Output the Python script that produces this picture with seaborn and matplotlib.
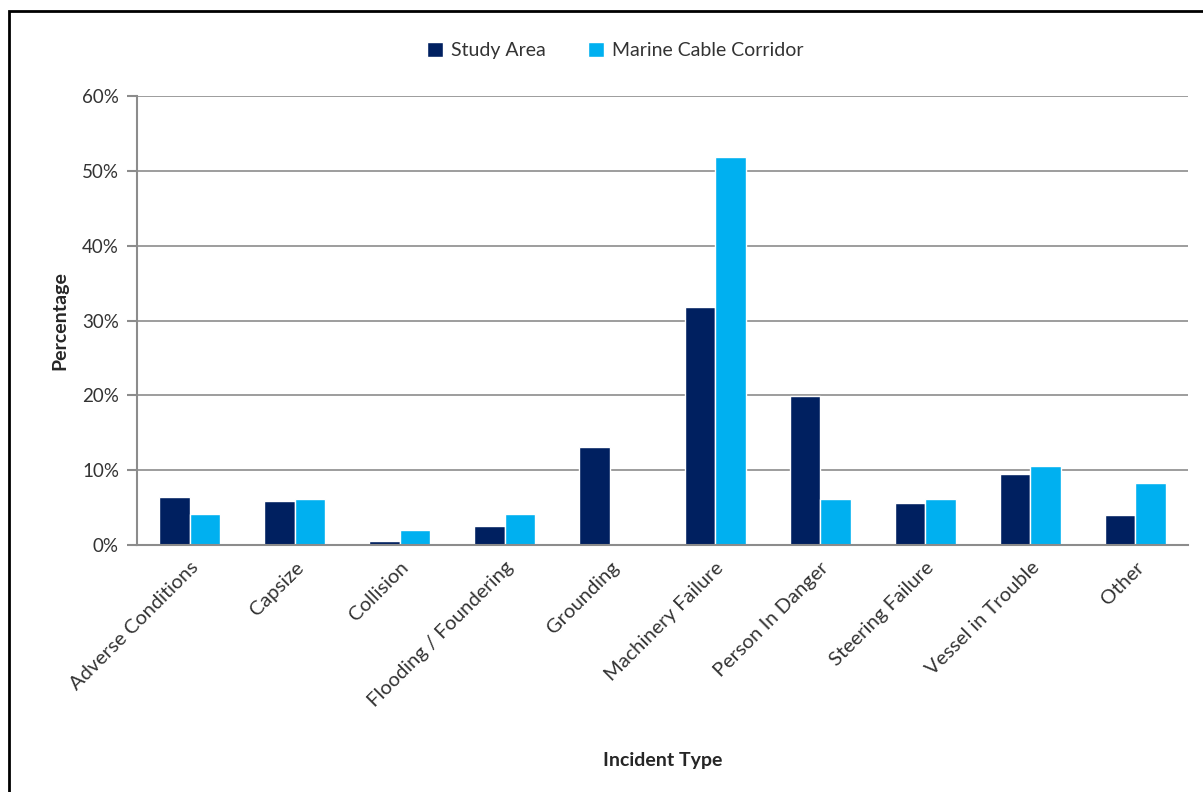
import pandas as pd
import seaborn as sns
import matplotlib.pyplot as plt
from matplotlib.patches import Rectangle
from matplotlib.ticker import PercentFormatter

incident_types = ["Adverse Conditions", "Capsize", "Collision", "Flooding / Foundering",
                  "Grounding", "Machinery Failure", "Person In Danger", "Steering Failure",
                  "Vessel in Trouble", "Other"]
study_area = [6.4, 5.9, 0.6, 2.5, 13.1, 31.8, 19.9, 5.65, 9.5, 4.0]
cable_corridor = [4.2, 6.1, 2.05, 4.2, 0.0, 51.9, 6.1, 6.1, 10.5, 8.3]

df = pd.DataFrame({
    "Incident Type": incident_types * 2,
    "Percentage": study_area + cable_corridor,
    "Series": ["Study Area"] * len(incident_types) + ["Marine Cable Corridor"] * len(incident_types),
})

sns.set_style("white")
plt.rcParams['font.family'] = ['Lato', 'DejaVu Sans']

fig = plt.figure(figsize=(12.03, 7.92), dpi=100)
ax = fig.add_axes([137 / 1203, 1 - 545 / 792, (1188 - 137) / 1203, (545 - 96) / 792])

sns.barplot(data=df, x="Incident Type", y="Percentage", hue="Series",
            palette=["#002060", "#00B0F0"], width=0.58, saturation=1, ax=ax)

ax.set_ylim(0, 60)
ax.set_xlim(-0.5, len(incident_types) - 0.5)
ax.set_yticks(range(0, 61, 10))
ax.yaxis.set_major_formatter(PercentFormatter(decimals=0))
ax.grid(axis="y", color="#8c8c8c", linewidth=1.2)
ax.set_axisbelow(True)
for s in ["top", "right"]:
    ax.spines[s].set_visible(False)
for s in ["left", "bottom"]:
    ax.spines[s].set_color("#8c8c8c")
    ax.spines[s].set_linewidth(1.5)

ax.set_xticks(range(len(incident_types)))
ax.set_xticklabels(incident_types, rotation=45, ha="right", rotation_mode="anchor", fontsize=14.5, color="#333333")
ax.set_xticks([i - 0.5 for i in range(len(incident_types) + 1)], minor=True)
ax.tick_params(axis="x", which="major", length=0, pad=10)
ax.tick_params(axis="x", which="minor", length=7, color="#8c8c8c", width=1.5, direction="out")
ax.tick_params(axis="y", length=7, color="#8c8c8c", width=1.5, direction="out", labelsize=13.5,
               labelcolor="#333333", left=True, pad=6)

ax.set_xlabel("Incident Type", fontsize=14, fontweight="bold", labelpad=30)
ax.set_ylabel("Percentage", fontsize=14, fontweight="bold", labelpad=10)

leg = ax.legend(loc="upper center", bbox_to_anchor=(0.455, 1.16), ncol=2, frameon=False,
                fontsize=14, handlelength=0.8, handleheight=0.8, columnspacing=2.2, handletextpad=0.4)
for t in leg.get_texts():
    t.set_color("#333333")

fig.patches.append(Rectangle((9 / 1203, -0.01), 1.02, 1 - 11 / 792 + 0.01, transform=fig.transFigure,
                             fill=False, edgecolor="black", linewidth=2))

fig.savefig("out.png", dpi=100)
